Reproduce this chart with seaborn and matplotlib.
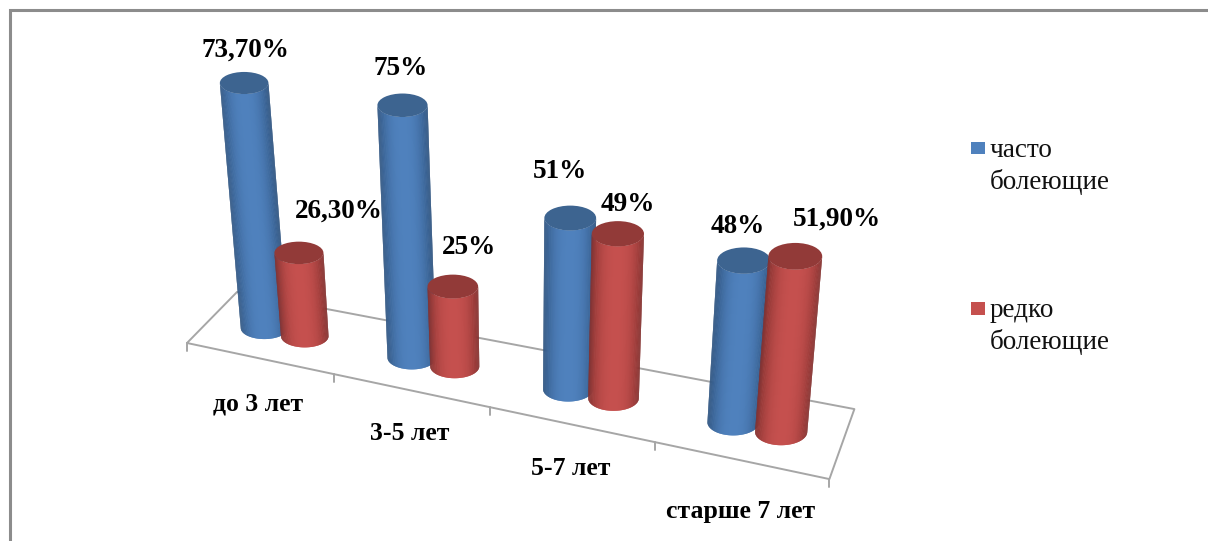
import numpy as np
import pandas as pd
import seaborn as sns
import matplotlib
matplotlib.use("Agg")
import matplotlib.pyplot as plt
from matplotlib.collections import PolyCollection
from matplotlib.colors import to_rgb
from matplotlib.patches import Ellipse, Rectangle

# Доля детей по возрастным группам, %
age_groups = ["до 3 лет", "3-5 лет", "5-7 лет", "старше 7 лет"]
frequent_ill = [73.7, 75.0, 51.0, 48.0]
rare_ill = [26.3, 25.0, 49.0, 51.9]
value_labels_frequent = ["73,70%", "75%", "51%", "48%"]
value_labels_rare = ["26,30%", "25%", "49%", "51,90%"]
series_names = ["часто\nболеющие", "редко\nболеющие"]

# Цвета рядов: центр цилиндра, край цилиндра, верхняя крышка
CENTER = {0: "#4f81bd", 1: "#c5504e"}
EDGE = {0: "#2f5480", 1: "#83302e"}
CAP = {0: "#3d6490", 1: "#923a38"}

# Сдвиг подписей значений относительно крышки цилиндра
label_shift_frequent = [(1, -33), (-2, -37), (-10, -47), (-6, -34)]
label_shift_rare = [(40, -42), (16, -39), (10, -29), (42, -37)]
# Отступ подписей категорий от передней кромки пола
category_drop = [46, 43, 44, 51]

W, H = 1208, 541
sns.set_theme(style="white")
plt.rcParams["font.family"] = ["Liberation Serif", "DejaVu Serif"]

fig = plt.figure(figsize=(W / 100, H / 100), dpi=100, facecolor="white")

# Раскладку столбцов считает seaborn; потом она проецируется на наклонный пол
table = pd.DataFrame({
    "group": age_groups * 2,
    "series": [0] * 4 + [1] * 4,
    "value": frequent_ill + rare_ill,
})
helper = fig.add_axes([0, 0, 0.1, 0.1])
sns.barplot(data=table, x="group", y="value", hue="series", width=0.56,
            gap=0, dodge=True, legend=False, ax=helper)
bars = []
for s, container in enumerate(helper.containers):
    for patch in container:
        bars.append((s, patch.get_x() + patch.get_width() / 2 + 0.5,
                     patch.get_height()))
helper.remove()

ax = fig.add_axes([0, 0, 1, 1])
ax.set_xlim(0, W)
ax.set_ylim(H, 0)
ax.axis("off")

# Углы пола на экране и перспективное сжатие вдоль оси категорий
FRONT_L, FRONT_R = np.array([187.0, 343.0]), np.array([829.0, 479.0])
BACK_L, BACK_R = np.array([237.0, 292.0]), np.array([854.0, 409.0])


def floor(u, v):
    t = (142.6 * u + 4.5 * u ** 2) / 642.0
    front = FRONT_L + (FRONT_R - FRONT_L) * t
    back = BACK_L + (BACK_R - BACK_L) * t
    return front + (back - front) * v


# Вертикали сходятся в точке далеко под графиком
VANISH = np.array([530.0, 3550.0])
SINK = 7.0


def lift(point, u, value):
    direction = point - VANISH
    direction = direction / np.linalg.norm(direction)
    return point + direction * (value * (3.42 + 0.03 * u) - SINK)


# Рамка области диаграммы: только сверху и слева
frame = "#8c8c8c"
ax.plot([9.5, 9.5, W], [H, 9.5, 9.5], color=frame, lw=2.2,
        solid_joinstyle="miter", zorder=1)

# Пол и засечки
floor_color = "#a6a6a6"
outline = np.array([floor(0, 0), floor(4, 0), floor(4, 1), floor(0, 1), floor(0, 0)])
ax.plot(outline[:, 0], outline[:, 1], color=floor_color, lw=1.4, zorder=2)
for k in range(5):
    x, y = floor(k, 0)
    ax.plot([x, x], [y, y + 8], color=floor_color, lw=1.4, zorder=2)


def cylinder(s, u, value, z):
    base = floor(u + 0.01, 0.5)
    top = lift(base, u, value)
    hw_top = 24.0 + 0.8 * u
    hw_base = hw_top * 0.97
    hh = 10.8 + 0.7 * u
    angles = np.linspace(np.pi, 0, 81)
    c, n = np.cos(angles), np.sin(angles)
    centre = np.array(to_rgb(CENTER[s]))
    edge = np.array(to_rgb(EDGE[s]))

    # Полосы слева направо: каждая заходит под следующую, поэтому швов не видно
    polys, colors = [], []
    for i in range(len(angles) - 1):
        j = min(i + 2, len(angles) - 1)
        idx = np.arange(i, j + 1)
        polys.append(np.vstack([
            np.column_stack([base[0] + hw_base * c[idx], base[1] + hh * n[idx]]),
            np.column_stack([top[0] + hw_top * c[idx[::-1]], top[1] + hh * n[idx[::-1]]]),
        ]))
        t = abs((c[i] + c[i + 1]) / 2) ** 2.6
        colors.append(tuple(centre * (1 - t) + edge * t))
    ax.add_collection(PolyCollection(polys, facecolors=colors, edgecolors="none",
                                     linewidths=0, zorder=z))

    ax.add_patch(Ellipse(top, 2 * hw_top, 2 * hh, facecolor=CAP[s],
                         edgecolor="none", zorder=z + 0.1))
    return top


# Рисуем от дальних к ближним: внутри группы красный ряд поверх синего
tops = {}
for s, u, value in bars:
    tops[(s, int(u))] = cylinder(s, u, value, 3 + int(u) + 0.3 * s)

for i in range(4):
    for s, texts, shift in ((0, value_labels_frequent, label_shift_frequent),
                            (1, value_labels_rare, label_shift_rare)):
        tx, ty = tops[(s, i)]
        ax.text(tx + shift[i][0], ty + shift[i][1], texts[i], ha="center",
                va="center", fontsize=19.5, fontweight="bold", color="black", zorder=20)
    x, y = floor(i + 0.5, 0)
    ax.text(x - 1, y + category_drop[i], age_groups[i], ha="center", va="center",
            fontsize=18.5, fontweight="bold", color="black", zorder=20)

# Легенда справа
for s, (square_y, text_y) in enumerate(((141.5, 149), (302, 309))):
    ax.add_patch(Rectangle((971, square_y), 13.5, 12.5, facecolor=CENTER[s],
                           edgecolor="none", zorder=20))
    ax.text(990, text_y + 17.5, series_names[s], ha="left", va="center",
            fontsize=19.5, linespacing=1.27, color="#111111", zorder=20)

fig.savefig("out.png", dpi=100)
